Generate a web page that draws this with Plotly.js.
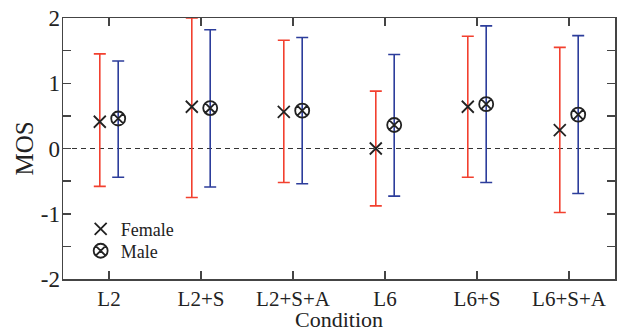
<!DOCTYPE html>
<html>
<head>
<meta charset="utf-8">
<script src="https://cdn.plot.ly/plotly-3.0.1.min.js"></script>
<style>html,body{margin:0;padding:0;background:#fff;}#chart{width:624px;height:332px;}</style>
</head>
<body>
<div id="chart"></div>
<script>
const categories = ['L2', 'L2+S', 'L2+S+A', 'L6', 'L6+S', 'L6+S+A'];
const femaleMean  = [0.41, 0.64, 0.56, 0.00, 0.64, 0.28];
const femaleUpper = [1.45, 2.00, 1.66, 0.88, 1.72, 1.55];
const femaleLower = [-0.58, -0.75, -0.52, -0.88, -0.44, -0.98];
const maleMean    = [0.46, 0.62, 0.58, 0.36, 0.68, 0.52];
const maleUpper   = [1.34, 1.82, 1.70, 1.44, 1.88, 1.73];
const maleLower   = [-0.44, -0.59, -0.54, -0.73, -0.52, -0.69];
const yTickVals = [-2, -1.5, -1, -0.5, 0, 0.5, 1, 1.5, 2];
const yTickText = ['-2', '', '-1', '', '0', '', '1', '', '2'];

const idx = categories.map((c, i) => i);
const off = 0.1;
const serif = '"Liberation Serif", "Times New Roman", Times, serif';

const female = {
  type: 'scatter', mode: 'markers', name: 'Female', legend: 'legend',
  x: idx.map(i => i - off), y: femaleMean,
  marker: {symbol: 'x-thin-open', size: 12, color: '#222', line: {width: 1.8, color: '#222'}},
  error_y: {type: 'data', symmetric: false,
    array: femaleUpper.map((u, i) => u - femaleMean[i]),
    arrayminus: femaleMean.map((m, i) => m - femaleLower[i]),
    color: '#f2402f', thickness: 1.6, width: 6},
  cliponaxis: false
};
const male = {
  type: 'scatter', mode: 'markers', name: 'Male', legend: 'legend2',
  x: idx.map(i => i + off), y: maleMean,
  marker: {symbol: 'circle-x-open', size: 14, color: '#222', line: {width: 1.8, color: '#222'}},
  error_y: {type: 'data', symmetric: false,
    array: maleUpper.map((u, i) => u - maleMean[i]),
    arrayminus: maleMean.map((m, i) => m - maleLower[i]),
    color: '#2c3d9b', thickness: 1.6, width: 6},
  cliponaxis: false
};

const legendFont = {family: serif, size: 18, color: '#222'};
const layout = {
  width: 624, height: 332,
  margin: {l: 63, r: 9, t: 18, b: 53},
  paper_bgcolor: '#fff', plot_bgcolor: '#fff',
  font: {family: serif, size: 20, color: '#222'},
  showlegend: true,
  legend: {x: 0.032, y: 0.262, xanchor: 'left', yanchor: 'top', bgcolor: 'rgba(0,0,0,0)', font: legendFont},
  legend2: {x: 0.032, y: 0.178, xanchor: 'left', yanchor: 'top', bgcolor: 'rgba(0,0,0,0)', font: legendFont},
  xaxis: {
    range: [-0.5, 5.5], tickmode: 'array', tickvals: idx, ticktext: categories,
    showgrid: false, zeroline: false, showline: true, linecolor: '#444', linewidth: 1.5,
    mirror: 'ticks', ticks: 'inside', ticklen: 8, tickwidth: 1.5, tickcolor: '#444',
    tickfont: {family: serif, size: 21, color: '#222'},
    title: {text: 'Condition', font: {family: serif, size: 22, color: '#222'}, standoff: 4}
  },
  yaxis: {
    range: [-2, 2], tickmode: 'array', tickvals: yTickVals, ticktext: yTickText,
    showgrid: false, zeroline: false, showline: true, linecolor: '#444', linewidth: 1.5,
    mirror: 'ticks', ticks: 'inside', ticklen: 8, tickwidth: 1.5, tickcolor: '#444',
    ticklabelstandoff: -3,
    tickfont: {family: serif, size: 23, color: '#222'},
    title: {text: 'MOS', font: {family: serif, size: 25, color: '#222'}, standoff: 0}
  },
  shapes: [{type: 'line', xref: 'paper', x0: 0, x1: 1, yref: 'y', y0: 0, y1: 0,
            line: {color: '#333', width: 1, dash: '5px,4px'}, layer: 'below'}]
};

Plotly.newPlot('chart', [female, male], layout, {displayModeBar: false, staticPlot: true});
</script>
</body>
</html>
